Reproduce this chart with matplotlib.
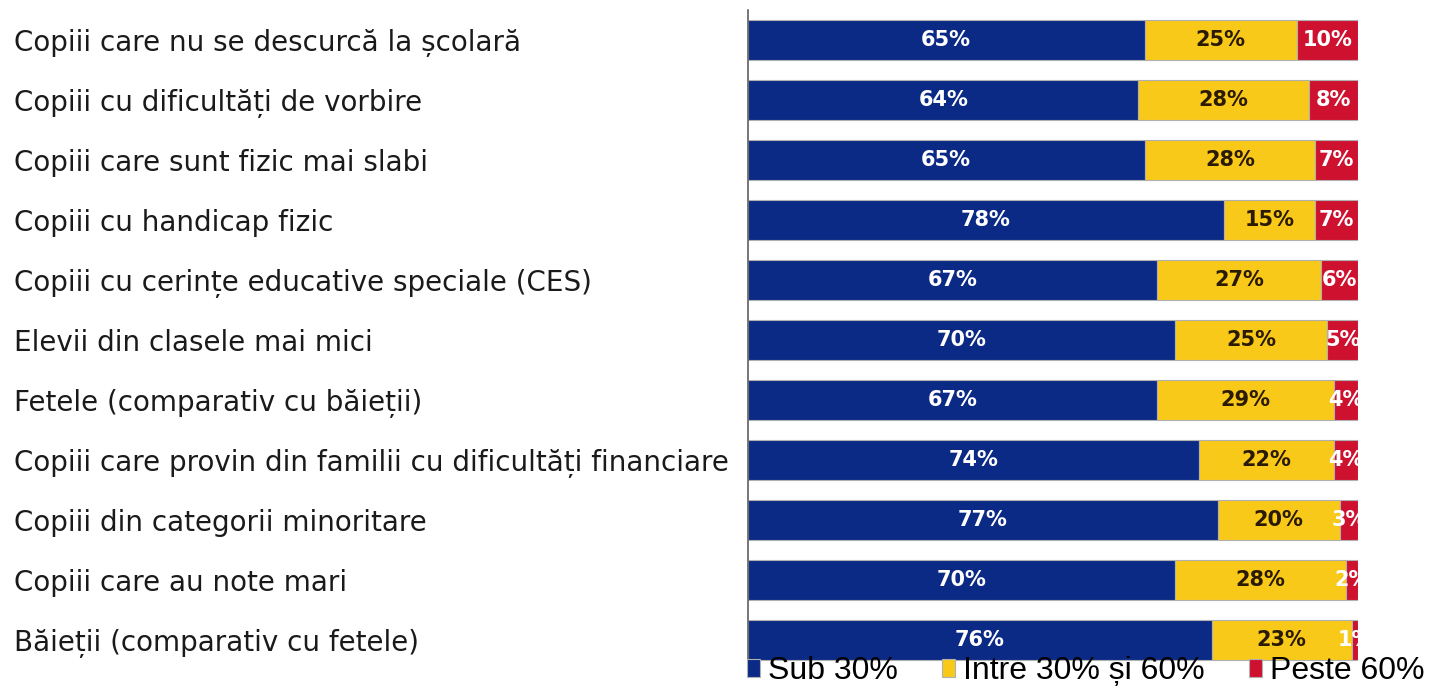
import matplotlib.pyplot as plt
import numpy as np

# categories, top to bottom
categories = [
    "Copiii care nu se descurcă la școlară",
    "Copiii cu dificultăți de vorbire",
    "Copiii care sunt fizic mai slabi",
    "Copiii cu handicap fizic",
    "Copiii cu cerințe educative speciale (CES)",
    "Elevii din clasele mai mici",
    "Fetele (comparativ cu băieții)",
    "Copiii care provin din familii cu dificultăți financiare",
    "Copiii din categorii minoritare",
    "Copiii care au note mari",
    "Băieții (comparativ cu fetele)",
]
sub30 = [65, 64, 65, 78, 67, 70, 67, 74, 77, 70, 76]
intre30_60 = [25, 28, 28, 15, 27, 25, 29, 22, 20, 28, 23]
peste60 = [10, 8, 7, 7, 6, 5, 4, 4, 3, 2, 1]
series_names = ["Sub 30%", "Intre 30% și 60%", "Peste 60%"]

colors = ["#0b2a86", "#f9c919", "#cf1130"]
text_colors = ["white", "#2a1a00", "white"]

plt.rcParams['font.family'] = ['DejaVu Sans']

fig = plt.figure(figsize=(14.38, 6.91), dpi=100)
ax = fig.add_axes([748 / 1438, 21 / 691, 610 / 1438, 660 / 691])

y = np.arange(len(categories))
left = np.zeros(len(categories))
for vals, col, tcol, name in zip([sub30, intre30_60, peste60], colors, text_colors, series_names):
    vals = np.array(vals)
    bars = ax.barh(y, vals, left=left, height=0.66, color=col, edgecolor="#b0b0b0",
                   linewidth=0.8, label=name)
    for b, v in zip(bars, vals):
        ax.text(b.get_x() + b.get_width() / 2, b.get_y() + b.get_height() / 2, f"{v}%",
                ha="center", va="center", color=tcol, fontsize=15, fontweight="bold")
    left += vals

ax.set_xlim(0, 100)
ax.set_ylim(10.5, -0.5)
ax.set_yticks(y)
ax.set_yticklabels(categories, fontsize=20, color="#1a1a1a")
for lbl in ax.get_yticklabels():
    lbl.set_horizontalalignment("left")
ax.tick_params(axis="y", length=0, pad=(748 - 14) * 0.72)
ax.set_xticks([])
for s in ["top", "right", "bottom"]:
    ax.spines[s].set_visible(False)
ax.spines["left"].set_color("#606060")
ax.spines["left"].set_linewidth(1.2)

fig.legend(loc="center left", bbox_to_anchor=(747 / 1438, 1 - 671 / 691), ncol=3,
           frameon=False, handlelength=0.4, handleheight=0.5,
           handletextpad=0.25, columnspacing=1.4, borderaxespad=0, borderpad=0,
           prop={'family': ['Liberation Sans'], 'size': 23})

fig.savefig("out.png", dpi=100)
